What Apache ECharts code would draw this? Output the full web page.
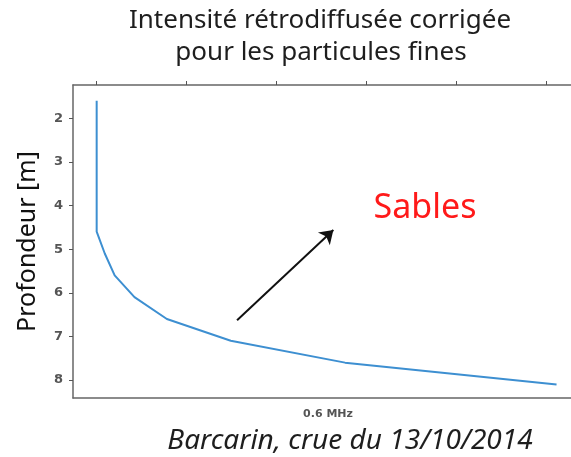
<!DOCTYPE html>
<html>
<head>
<meta charset="utf-8">
<script src="https://cdn.jsdelivr.net/npm/echarts@6/dist/echarts.min.js"></script>
<style>
  html, body { margin: 0; padding: 0; background: #fff; }
  #chart { width: 571px; height: 457px; }
</style>
</head>
<body>
<div id="chart"></div>
<script>
// profondeur (m) et intensité (unités relatives)
const depths = [1.6, 2.1, 2.6, 3.1, 3.6, 4.1, 4.6, 5.1, 5.6, 6.1, 6.6, 7.1, 7.6, 8.1];
const intensity = [0, 0, 0, 0, 0, 0, 0, 0.09, 0.2, 0.42, 0.78, 1.49, 2.76, 5.11];
const depthTicks = [2, 3, 4, 5, 6, 7, 8];
const topTicks = [0, 1, 2, 3, 4, 5];
// flèche vers "Sables"
const arrowFrom = [1.56, 6.63];
const arrowTo = [2.63, 4.56];

const chart = echarts.init(document.getElementById('chart'));

const option = {
  animation: false,
  grid: { left: 73, top: 85, width: 510, height: 313, outerBoundsMode: 'none', containLabel: false },
  xAxis: [
    {
      type: 'value',
      position: 'bottom',
      min: -0.263,
      max: 5.404,
      name: '0.6 MHz',
      nameLocation: 'middle',
      nameGap: 11,
      nameTextStyle: { color: '#555', fontSize: 11, fontWeight: 'bold', fontFamily: 'DejaVu Sans' },
      axisLine: { show: true, onZero: false, lineStyle: { color: '#666', width: 1.5 } },
      axisTick: { show: false },
      axisLabel: { show: false },
      splitLine: { show: false }
    },
    {
      type: 'value',
      position: 'top',
      min: -0.263,
      max: 5.404,
      axisLine: { show: true, onZero: false, lineStyle: { color: '#666', width: 1.5 } },
      axisTick: { show: true, customValues: topTicks, length: 4, lineStyle: { color: '#555' } },
      axisLabel: { show: false },
      splitLine: { show: false }
    }
  ],
  yAxis: {
    type: 'value',
    inverse: true,
    min: 1.24,
    max: 8.41,
    name: 'Profondeur [m]',
    nameLocation: 'middle',
    nameGap: 33,
    nameTextStyle: { color: '#111', fontSize: 25, fontFamily: 'Noto Sans' },
    axisLine: { show: true, onZero: false, lineStyle: { color: '#666', width: 1.5 } },
    axisTick: { show: true, customValues: depthTicks, length: 4, lineStyle: { color: '#555' } },
    axisLabel: {
      customValues: depthTicks,
      color: '#555',
      fontSize: 13,
      fontWeight: 'bold',
      fontFamily: 'DejaVu Sans',
      margin: 10
    },
    splitLine: { show: false }
  },
  series: [
    {
      type: 'line',
      data: depths.map((d, i) => [intensity[i], d]),
      showSymbol: false,
      lineStyle: { color: '#3d8fd1', width: 2 },
      markLine: {
        silent: true,
        symbol: ['none', 'arrow'],
        symbolSize: 13,
        lineStyle: { color: '#111', width: 2, type: 'solid' },
        label: { show: false },
        data: [[{ coord: arrowFrom }, { coord: arrowTo }]]
      }
    }
  ],
  graphic: [
    {
      type: 'text', x: 320, y: 21,
      style: { text: 'Intensité rétrodiffusée corrigée', fill: '#1e1e1e', font: '26px "Noto Sans"', textAlign: 'center', textVerticalAlign: 'middle' }
    },
    {
      type: 'text', x: 321, y: 53,
      style: { text: 'pour les particules fines', fill: '#1e1e1e', font: '26px "Noto Sans"', textAlign: 'center', textVerticalAlign: 'middle' }
    },
    {
      type: 'text', x: 425, y: 208,
      style: { text: 'Sables', fill: '#ff1a1a', font: '34px "Noto Sans"', textAlign: 'center', textVerticalAlign: 'middle' }
    },
    {
      type: 'text', x: 350, y: 441,
      style: { text: 'Barcarin, crue du 13/10/2014', fill: '#1e1e1e', font: 'italic 28px "Noto Sans"', textAlign: 'center', textVerticalAlign: 'middle' }
    }
  ]
};

chart.setOption(option);
</script>
</body>
</html>
